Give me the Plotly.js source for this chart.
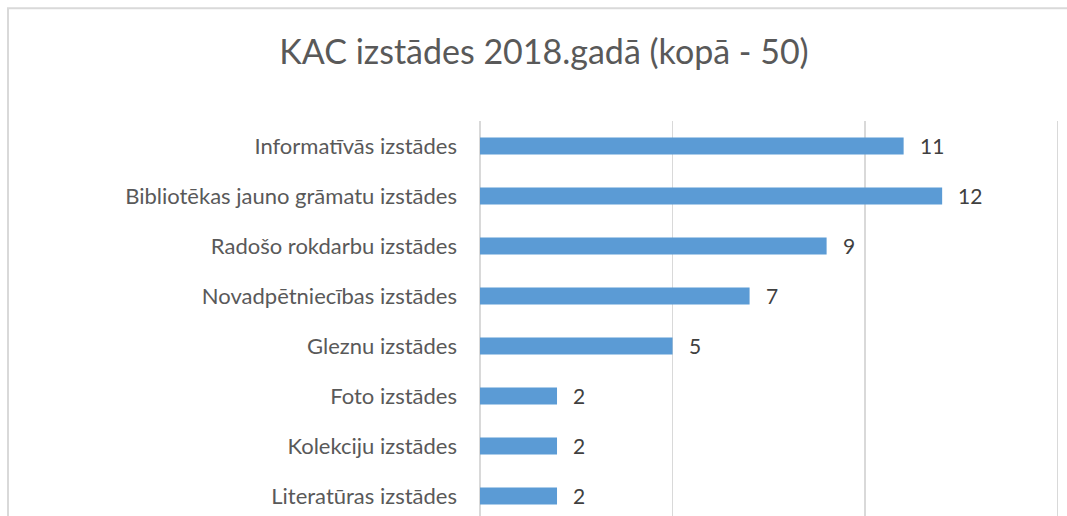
<!DOCTYPE html>
<html>
<head>
<meta charset="utf-8">
<script src="https://cdn.plot.ly/plotly-3.0.1.min.js"></script>
<style>html,body{margin:0;padding:0;background:#fff;}#chart{width:1067px;height:516px;}</style>
</head>
<body>
<div id="chart"></div>
<script>
var categories = [
  "Informatīvās izstādes",
  "Bibliotēkas jauno grāmatu izstādes",
  "Radošo rokdarbu izstādes",
  "Novadpētniecības izstādes",
  "Gleznu izstādes",
  "Foto izstādes",
  "Kolekciju izstādes",
  "Literatūras izstādes"
];
var values = [11, 12, 9, 7, 5, 2, 2, 2];
var xTickVals = [0, 5, 10, 15];
var titleText = "KAC izstādes 2018.gadā (kopā - 50)";

var font = "Lato, 'Open Sans', sans-serif";

var trace = {
  type: "bar",
  orientation: "h",
  x: values,
  y: categories,
  width: 0.34,
  marker: {color: "#5b9bd5"},
  hoverinfo: "x+y"
};

var annotations = values.map(function(v, i){
  return {
    x: v, y: categories[i], xref: "x", yref: "y",
    text: String(v), showarrow: false,
    xanchor: "left", yanchor: "middle", xshift: 14, yshift: 1,
    font: {family: font, size: 21, color: "#404040"}
  };
});

var layout = {
  width: 1067, height: 516,
  margin: {l: 480, r: 2, t: 121, b: 0},
  paper_bgcolor: "#ffffff", plot_bgcolor: "#ffffff",
  showlegend: false,
  title: {
    text: titleText,
    font: {family: font, size: 34, color: "#595959"},
    x: 544 / 1067, xref: "container", xanchor: "center",
    y: 1 - 52/516, yref: "container", yanchor: "middle"
  },
  xaxis: {
    range: [0, 15.19],
    tickvals: xTickVals,
    showticklabels: false,
    showgrid: true, gridcolor: "#d9d9d9", gridwidth: 1.5,
    zeroline: true, zerolinecolor: "#d9d9d9", zerolinewidth: 1.5,
    showline: false, fixedrange: true
  },
  yaxis: {
    type: "category",
    categoryorder: "array", categoryarray: categories,
    range: [7.4, -0.5],
    showgrid: false, zeroline: false, showline: false,
    ticks: "", ticklabelstandoff: 22,
    tickfont: {family: font, size: 22, color: "#595959"},
    fixedrange: true
  },
  annotations: annotations,
  shapes: [{
    type: "rect", xref: "paper", yref: "paper",
    x0: (8 - 480) / 585, x1: (1100 - 480) / 585,
    y0: (516 - 560) / 395, y1: (516 - 8.3) / 395,
    line: {color: "#d9d9d9", width: 2}, fillcolor: "rgba(0,0,0,0)", layer: "below"
  }]
};

Plotly.newPlot("chart", [trace], layout, {displayModeBar: false, staticPlot: true});
</script>
</body>
</html>
